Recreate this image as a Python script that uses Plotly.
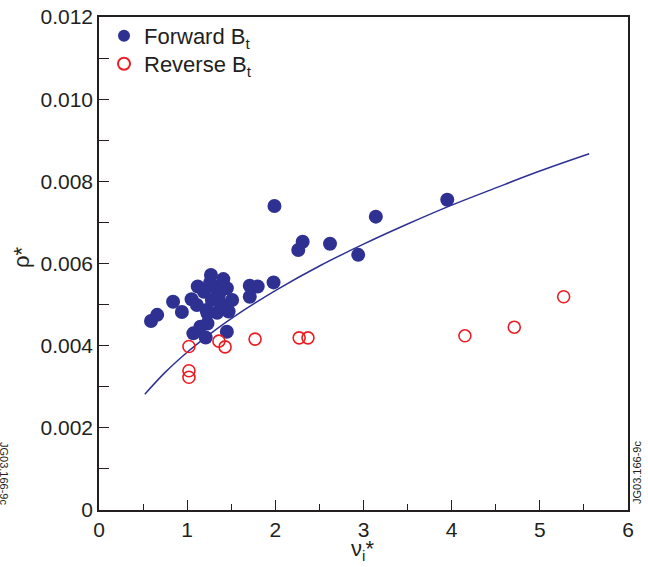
import plotly.graph_objects as go

# Forward Bt data (nu_i*, rho*)
fwd_x = [0.59, 0.66, 0.84, 0.94, 1.05, 1.12, 1.19, 1.27, 1.41, 1.45, 1.51, 1.47, 1.34, 1.22,
         1.11, 1.28, 1.36, 1.30, 1.38, 1.23, 1.15, 1.07, 1.21, 1.45, 1.71, 1.80, 1.71, 1.98,
         1.99, 2.26, 2.31, 2.62, 2.94, 3.14, 3.95, 1.26, 1.40, 1.23]
fwd_y = [0.00460, 0.00475, 0.00507, 0.00482, 0.00513, 0.00544, 0.00531, 0.00572, 0.00562,
         0.00540, 0.00511, 0.00483, 0.00480, 0.00487, 0.00499, 0.00511, 0.00523, 0.00544,
         0.00503, 0.00454, 0.00446, 0.00430, 0.00420, 0.00434, 0.00546, 0.00544, 0.00519,
         0.00554, 0.00740, 0.00633, 0.00653, 0.00648, 0.00621, 0.00714, 0.00755, 0.00553,
         0.00540, 0.00479]

# Reverse Bt data
rev_x = [1.02, 1.02, 1.02, 1.36, 1.43, 1.77, 2.27, 2.37, 4.15, 4.71, 5.27]
rev_y = [0.00398, 0.00339, 0.00323, 0.00411, 0.00397, 0.00416, 0.00419, 0.00419,
         0.00424, 0.00445, 0.00519]

# Fit curve
fit_x = [0.52, 0.75, 1.0, 1.25, 1.5, 2.0, 2.5, 3.0, 3.5, 4.0, 4.5, 5.0, 5.56]
fit_y = [0.00282, 0.00335, 0.00384, 0.00427, 0.00466, 0.00534, 0.00594, 0.00647,
         0.00696, 0.00742, 0.00784, 0.00825, 0.00867]

y_ticks = [0, 0.002, 0.004, 0.006, 0.008, 0.010, 0.012]
y_labels = ["0", "0.002", "0.004", "0.006", "0.008", "0.010", "0.012"]
x_ticks = [0, 1, 2, 3, 4, 5, 6]

NAVY = "#2e3192"
RED = "#ed1c24"
INK = "#231f20"
FONT = "Liberation Sans, Arial, sans-serif"

W, H = 648, 567
ML, MR, MT, MB = 99, 20, 17, 57
PW, PH = W - ML - MR, H - MT - MB


def px_x(p):
    return (p - ML) / PW


def px_y(p):
    return (H - MB - p) / PH


fig = go.Figure()
fig.add_trace(go.Scatter(x=fit_x, y=fit_y, mode="lines", line=dict(color=NAVY, width=1.5),
                         line_shape="spline", showlegend=False, hoverinfo="skip"))
fig.add_trace(go.Scatter(x=fwd_x, y=fwd_y, mode="markers", name="Forward B<sub>t</sub>",
                         legend="legend",
                         marker=dict(symbol="circle", size=14, color=NAVY, line=dict(width=0))))
fig.add_trace(go.Scatter(x=rev_x, y=rev_y, mode="markers", name="Reverse B<sub>t</sub>",
                         legend="legend2",
                         marker=dict(symbol="circle-open", size=12, color=RED, line=dict(width=1.6, color=RED))))

axis_common = dict(showgrid=False, zeroline=False, showline=True, linecolor=INK, linewidth=1.5,
                   mirror=True, ticks="inside", ticklen=10, tickwidth=1.2, tickcolor=INK,
                   automargin=False,
                   tickfont=dict(family=FONT, size=21, color=INK))

fig.update_xaxes(range=[0, 6], tickvals=x_ticks,
                 minor=dict(dtick=0.5, ticks="inside", ticklen=6, tickwidth=1.2, tickcolor=INK),
                 **axis_common)
fig.update_yaxes(range=[0, 0.012], tickvals=y_ticks, ticktext=y_labels,
                 minor=dict(dtick=0.001, ticks="inside", ticklen=10, tickwidth=1.2, tickcolor=INK),
                 **axis_common)

legend_common = dict(xanchor="left", yanchor="middle", bgcolor="rgba(0,0,0,0)",
                     font=dict(family=FONT, size=22, color=INK), itemsizing="constant",
                     itemwidth=30)
fig.update_layout(
    width=W, height=H,
    margin=dict(l=ML, r=MR, t=MT, b=MB),
    paper_bgcolor="white", plot_bgcolor="white",
    font=dict(family=FONT, color=INK),
    legend=dict(x=px_x(104), y=px_y(36), **legend_common),
    legend2=dict(x=px_x(104), y=px_y(64), **legend_common),
)
fig.add_annotation(text="ν<sub>i</sub>*", x=px_x(362), y=px_y(550), xref="paper", yref="paper",
                   xanchor="center", yanchor="middle",
                   showarrow=False, font=dict(family=FONT, size=22, color=INK))
fig.add_annotation(text="ρ*", x=px_x(21), y=px_y(257), xref="paper", yref="paper",
                   xanchor="center", yanchor="middle",
                   showarrow=False, textangle=-90, font=dict(family=FONT, size=22, color=INK))
fig.add_annotation(text="JG03.166-9c", x=px_x(637), y=px_y(473), xref="paper", yref="paper",
                   xanchor="center", yanchor="middle",
                   showarrow=False, textangle=-90, font=dict(family=FONT, size=11, color=INK))
fig.add_annotation(text="JG03.166-9c", x=px_x(4), y=px_y(473), xref="paper", yref="paper",
                   xanchor="center", yanchor="middle",
                   showarrow=False, textangle=90, font=dict(family=FONT, size=11, color=INK))

fig.write_html("out.html", config={"displayModeBar": False},
               post_script="document.body.style.margin='0';document.body.style.padding='0';")
